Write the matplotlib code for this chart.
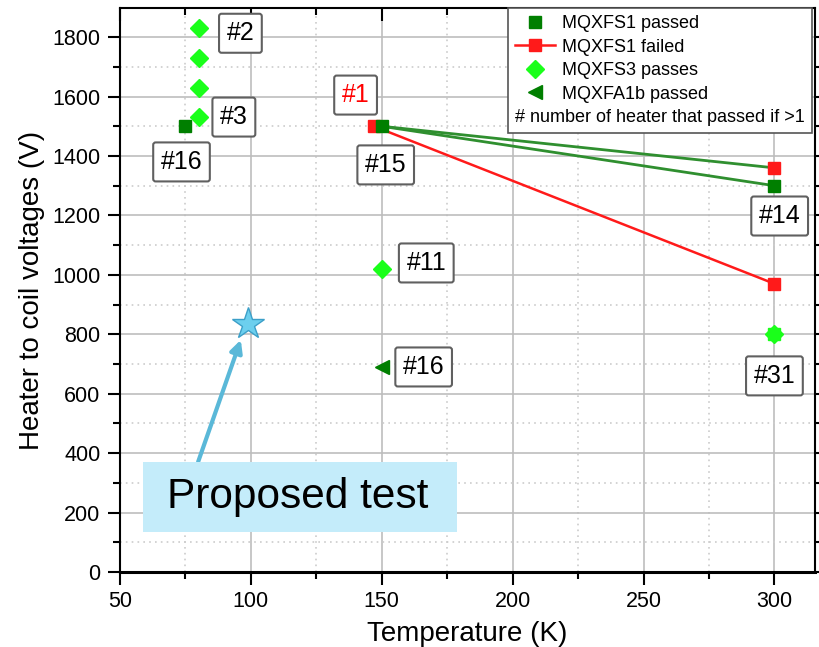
import matplotlib.pyplot as plt
from matplotlib.lines import Line2D
from matplotlib.patches import Rectangle
from matplotlib.ticker import MultipleLocator

plt.rcParams['font.family'] = ['Liberation Sans', 'DejaVu Sans']

# MQXFS1 passed (dark green squares)
s1_pass_T = [75, 150, 300]
s1_pass_V = [1500, 1500, 1300]
# MQXFS1 failed (red squares)
s1_fail_T = [147, 300, 300]
s1_fail_V = [1500, 1360, 970]
# segments joining the 150 K and 300 K tests
green_seg_T = [[150, 300], [150, 300]]
green_seg_V = [[1500, 1360], [1500, 1300]]
red_seg_T = [147, 300]
red_seg_V = [1500, 970]
# MQXFS3 passes (lime diamonds)
s3_T = [80, 80, 80, 80, 150, 300]
s3_V = [1830, 1730, 1630, 1530, 1020, 800]
s3_sq_T = [300]
s3_sq_V = [800]
# MQXFA1b passed
a1b_T = [150]
a1b_V = [690]
# proposed test
prop_T = [99]
prop_V = [835]

# heater count labels
labels = ['#2', '#3', '#16', '#1', '#15', '#14', '#11', '#16', '#31']
label_T = [96, 93.5, 73.5, 140, 151.5, 302, 167, 166, 300]
label_V = [1813, 1531, 1380, 1605, 1370, 1198, 1040, 690, 660]
label_col = ['k', 'k', 'k', 'red', 'k', 'k', 'k', 'k', 'k']

dgreen = '#007f00'
lgreen = '#2f8f2f'
red = '#ff1a1a'
lime = '#1aff1a'

fig = plt.figure(figsize=(8.19, 6.47), dpi=100)
ax = fig.add_axes([120/819, 75/647, 695/819, 564/647])

for t, v in zip(green_seg_T, green_seg_V):
    ax.plot(t, v, color=lgreen, lw=2, zorder=3)
ax.plot(red_seg_T, red_seg_V, color=red, lw=1.8, zorder=3)

ax.plot(s1_fail_T, s1_fail_V, 's', color=red, ms=9, zorder=4)
ax.plot(s1_pass_T, s1_pass_V, 's', color=dgreen, ms=9, zorder=4)
ax.plot(s3_sq_T, s3_sq_V, 's', color=lime, ms=9, zorder=4)
ax.plot(s3_T, s3_V, 'D', color=lime, ms=9, zorder=4)
ax.plot(a1b_T, a1b_V, '<', color=dgreen, ms=10, zorder=4)
ax.plot(prop_T, prop_V, '*', color='#6ccfee', mec='#3c9fc8', mew=1, ms=24, zorder=4)

for lab, t, v, c in zip(labels, label_T, label_V, label_col):
    ax.text(t, v, lab, color=c, fontsize=18, ha='center', va='center', zorder=5,
            bbox=dict(boxstyle='round,pad=0.3,rounding_size=0.1', fc='white',
                      ec='#606060', lw=1.5))

ax.annotate('', xy=(96.5, 790), xytext=(79.5, 362),
            arrowprops=dict(arrowstyle='-|>', color='#5ab8d8', lw=3,
                            mutation_scale=18), zorder=4)
ax.add_patch(Rectangle((0.033, 0.071), 0.452, 0.124, transform=ax.transAxes,
                       fc='#c4ecfa', ec='none', zorder=6))
ax.text(0.256, 0.133, 'Proposed test', transform=ax.transAxes, fontsize=30.5,
        ha='center', va='center', zorder=7)

ax.set_xlim(50, 315.5)
ax.set_ylim(0, 1898)
ax.xaxis.set_major_locator(MultipleLocator(50))
ax.xaxis.set_minor_locator(MultipleLocator(25))
ax.yaxis.set_major_locator(MultipleLocator(200))
ax.yaxis.set_minor_locator(MultipleLocator(100))
ax.grid(which='major', color='#bdbdbd', lw=1.2, zorder=0)
ax.grid(which='minor', color='#cccccc', lw=1.2, ls=(0, (1, 2.5)), zorder=0)
ax.set_axisbelow(True)

ax.tick_params(which='both', labelsize=15.5, width=1.5, direction='out',
               top=True, right=True)
ax.tick_params(which='major', length=9, pad=5)
ax.tick_params(which='minor', length=5)
for sp in ax.spines.values():
    sp.set_linewidth(1.5)
ax.spines['bottom'].set_linewidth(2.2)
for tk in ax.xaxis.get_major_ticks() + ax.xaxis.get_minor_ticks():
    tk.tick2line.set_marker(3)

ax.set_xlabel('Temperature (K)', fontsize=20, labelpad=6)
ax.set_ylabel('Heater to coil voltages (V)', fontsize=20, labelpad=5)

handles = [
    Line2D([], [], color=dgreen, marker='s', ls='none', ms=9),
    Line2D([], [], color=red, marker='s', ls='-', lw=1.8, ms=9),
    Line2D([], [], color=lime, marker='D', ls='none', ms=9),
    Line2D([], [], color=dgreen, marker='<', ls='none', ms=10),
    Line2D([], [], ls='none'),
]
names = ['MQXFS1 passed', 'MQXFS1 failed', 'MQXFS3 passes', 'MQXFA1b passed',
         '# number of heater that passed if >1']
leg = ax.legend(handles, names, loc='upper right', bbox_to_anchor=(0.996, 1.0),
                borderaxespad=0, fontsize=13, labelspacing=0.36, handlelength=2.2,
                handletextpad=0.4, fancybox=False, framealpha=1, edgecolor='#555555')
leg.get_frame().set_linewidth(1.2)
leg.set_zorder(8)
try:
    row = leg._legend_handle_box.get_children()[0].get_children()[4]
    row.sep = 0
    row.get_children()[0].width = 0
except Exception:
    pass

fig.savefig('out.png', dpi=100)
